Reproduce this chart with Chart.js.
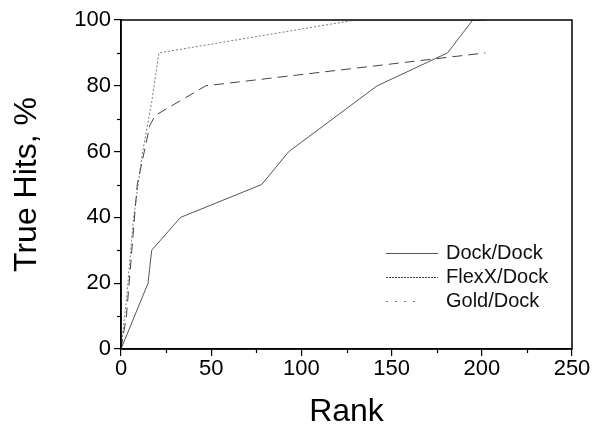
<!DOCTYPE html>
<html><head><meta charset="utf-8">
<script src="https://cdn.jsdelivr.net/npm/chart.js@4/dist/chart.umd.min.js"></script>
<style>html,body{margin:0;padding:0;background:#fff}#wrap{width:594px;height:431px}</style>
</head><body><div id="wrap"><canvas id="c" width="594" height="431"></canvas></div>
<script>
const seriesNames = ["Dock/Dock", "FlexX/Dock", "Gold/Dock"];
const dockRank = [0, 15, 17, 33, 78, 93, 142, 181, 195, 202];
const dockHits = [0, 20, 30, 40, 50, 60, 80, 90, 100, 100];
const flexRank = [0, 3, 6, 9, 16, 19, 47, 202];
const flexHits = [0, 10, 30, 50, 68, 71, 80, 90];
const goldRank = [0, 3, 7, 12, 17, 21, 130, 200];
const goldHits = [0, 15, 40, 60, 75, 90, 100, 100];
const xTicks = [0, 50, 100, 150, 200, 250];
const yTicks = [0, 20, 40, 60, 80, 100];

function pts(xs, ys){ return xs.map((x,i)=>({x:x, y:ys[i]})); }

const FONT = "'Liberation Sans', Arial, Helvetica, sans-serif";
const styles = [
  {color:'#555', dash:[]},
  {color:'#444', dash:[10,6]},
  {color:'#777', dash:[2,2]}
];

const framePlugin = {
  id:'frame',
  afterDraw(chart){
    const {ctx, chartArea:a, scales} = chart;
    ctx.save();
    ctx.strokeStyle='#000'; ctx.lineWidth=1.5;
    ctx.strokeRect(a.left, a.top, a.right-a.left, a.bottom-a.top);
    ctx.lineWidth=1.2;
    const ys = scales.y, xs = scales.x;
    for(let v=10; v<100; v+=20){
      const p = Math.round(ys.getPixelForValue(v))+0.5;
      ctx.beginPath(); ctx.moveTo(a.left-4,p); ctx.lineTo(a.left,p); ctx.stroke();
    }
    for(let v=25; v<250; v+=50){
      const p = Math.round(xs.getPixelForValue(v))+0.5;
      ctx.beginPath(); ctx.moveTo(p,a.bottom); ctx.lineTo(p,a.bottom+4); ctx.stroke();
    }
    ctx.font = "20px " + FONT;
    ctx.textBaseline='middle'; ctx.textAlign='left';
    const lx0 = 386, lx1 = 438, tx = 446, rowY=[253, 277, 301];
    chart.data.datasets.forEach((ds,i)=>{
      ctx.strokeStyle = ds.borderColor; ctx.lineWidth=1;
      ctx.setLineDash(i===2 ? [2,7] : (i===1 ? [2,1] : []));
      ctx.beginPath(); ctx.moveTo(lx0, rowY[i]+0.5); ctx.lineTo(i===2 ? 416 : lx1, rowY[i]+0.5); ctx.stroke();
      ctx.setLineDash([]);
      ctx.fillStyle='#111';
      ctx.fillText(ds.label, tx, rowY[i]);
    });
    ctx.restore();
  }
};

new Chart(document.getElementById('c'), {
  type:'line',
  data:{
    datasets:[
      {label:seriesNames[0], data:pts(dockRank, dockHits)},
      {label:seriesNames[1], data:pts(flexRank, flexHits)},
      {label:seriesNames[2], data:pts(goldRank, goldHits)}
    ].map((d,i)=>Object.assign(d,{borderColor:styles[i].color, borderDash:styles[i].dash, borderWidth:1, pointRadius:0, fill:false, tension:0}))
  },
  options:{
    responsive:false, animation:false, devicePixelRatio:1,
    layout:{padding:{top:20, right:22, left:0, bottom:0}},
    plugins:{legend:{display:false}, tooltip:{enabled:false}},
    scales:{
      x:{type:'linear', min:0, max:250,
        afterBuildTicks(s){ s.ticks = xTicks.map(v=>({value:v})); },
        afterFit(s){ s.height = 82; },
        grid:{display:true, drawOnChartArea:false, drawTicks:true, tickLength:7, color:'#000', lineWidth:1.2},
        border:{display:true, color:'#000', width:1.5},
        ticks:{color:'#000', font:{family:FONT, size:22}, padding:0, maxRotation:0},
        title:{display:true, text:'Rank', color:'#000', font:{family:FONT, size:32}, padding:{top:4, bottom:0}}
      },
      y:{type:'linear', min:0, max:100,
        afterBuildTicks(s){ s.ticks = yTicks.map(v=>({value:v})); },
        afterFit(s){ s.width = 121; },
        grid:{display:true, drawOnChartArea:false, drawTicks:true, tickLength:7, color:'#000', lineWidth:1.2},
        border:{display:true, color:'#000', width:1.5},
        ticks:{color:'#000', font:{family:FONT, size:22}, padding:3},
        title:{display:true, text:'True Hits, %', color:'#000', font:{family:FONT, size:32}, padding:{top:8, bottom:0}}
      }
    }
  },
  plugins:[framePlugin]
});
</script>
</body></html>
